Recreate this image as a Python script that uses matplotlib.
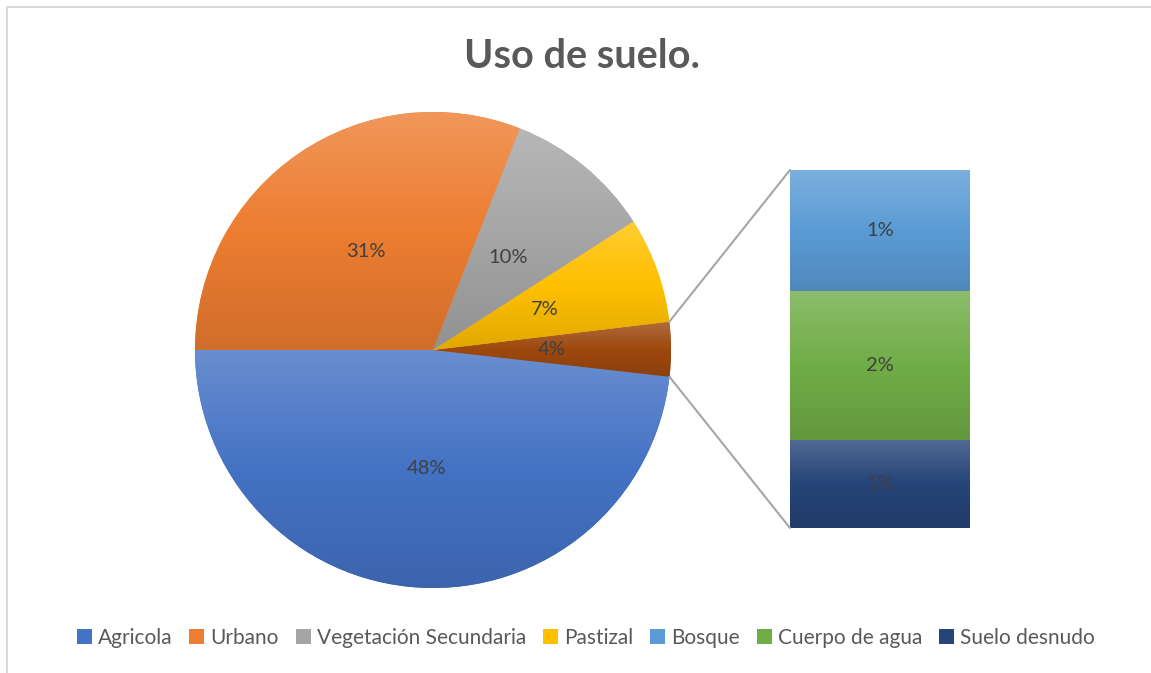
import numpy as np
import matplotlib
matplotlib.use('Agg')
import matplotlib.pyplot as plt
from matplotlib.patches import ConnectionPatch, Patch
from matplotlib.lines import Line2D
from matplotlib.colors import to_rgb

plt.rcParams['font.family'] = ['Lato', 'DejaVu Sans']

# datos (porcentajes)
bar_labels = ['Suelo desnudo', 'Cuerpo de agua', 'Bosque']
bar_values = [0.91, 1.54, 1.25]
bar_colors = ['#264478', '#70AD47', '#5B9BD5']

otros = sum(bar_values)
pie_labels = ['Agricola', 'Otros', 'Pastizal', 'Vegetación Secundaria', 'Urbano']
pie_values = [48.3, otros, 7.2, 10.0, 31.0]
pie_colors = ['#4472C4', '#9E480E', '#FFC000', '#A5A5A5', '#ED7D31']

legend_order = ['Agricola', 'Urbano', 'Vegetación Secundaria', 'Pastizal',
                'Bosque', 'Cuerpo de agua', 'Suelo desnudo']

text_color = '#404040'


def gradient_fill(ax, patch, color, extent):
    # degradado vertical tipo Excel: claro arriba, oscuro abajo
    c = np.array(to_rgb(color))
    top = c + (1 - c) * 0.2
    bot = c * 0.88
    t = np.linspace(0, 1, 256)[:, None]
    rows = np.where(t < 0.5, top + (c - top) * (t / 0.5), c + (bot - c) * ((t - 0.5) / 0.5))
    img = np.clip(rows[:, None, :], 0, 1)
    im = ax.imshow(img, extent=extent, origin='upper', aspect='auto',
                   zorder=patch.get_zorder() + 0.1, interpolation='bilinear')
    im.set_clip_path(patch)


W, H = 1151, 673
fig = plt.figure(figsize=(W / 100, H / 100), dpi=100)

# pie
ax1 = fig.add_axes([195 / W, 1 - 588 / H, 476 / W, 476 / H])
wedges, texts, autotexts = ax1.pie(
    pie_values, colors=pie_colors, startangle=180, counterclock=True,
    autopct='%1.0f%%', pctdistance=0.5, wedgeprops=dict(linewidth=0),
    textprops=dict(color=text_color, fontsize=14.5))
for w, col in zip(wedges, pie_colors):
    b = w.get_path().get_extents()
    gradient_fill(ax1, w, col, (b.x0, b.x1, b.y0, b.y1))
for t in autotexts:
    t.set_zorder(5)
ax1.set_xlim(-1, 1)
ax1.set_ylim(-1, 1)
ax1.set_aspect('equal')
ax1.axis('off')

# barra apilada
ax2 = fig.add_axes([790 / W, 1 - 528 / H, 180 / W, 358 / H])
total = sum(pie_values)
bottoms = np.concatenate([[0], np.cumsum(bar_values)[:-1]])
bar_handles = {}
for lab, val, bot, col in zip(bar_labels, bar_values, bottoms, bar_colors):
    cont = ax2.bar(0, val, bottom=bot, width=1, color=col, linewidth=0, label=lab)
    rect = cont.patches[0]
    gradient_fill(ax2, rect, col, (-0.5, 0.5, bot, bot + val))
    ax2.bar_label(cont, labels=[f'{val / total * 100:.0f}%'], label_type='center',
                  color=text_color, fontsize=14.5, zorder=5)
    bar_handles[lab] = col
ax2.set_xlim(-0.5, 0.5)
ax2.set_ylim(0, otros)
ax2.axis('off')

# lineas de conexion
w_otros = wedges[1]
for ang, yb in [(w_otros.theta1, 0), (w_otros.theta2, otros)]:
    a = np.deg2rad(ang)
    con = ConnectionPatch(xyA=(np.cos(a), np.sin(a)), coordsA=ax1.transData,
                          xyB=(-0.5, yb), coordsB=ax2.transData,
                          color='#A6A6A6', lw=1.5)
    fig.add_artist(con)

# leyenda
colors = dict(zip(pie_labels, pie_colors))
colors.update(bar_handles)
handles = [Patch(facecolor=colors[l], edgecolor='none', label=l) for l in legend_order]
fig.legend(handles=handles, loc='center', bbox_to_anchor=(0.509, 1 - 638 / H), ncol=7,
           frameon=False, fontsize=15, labelcolor='#595959',
           handlelength=0.72, handleheight=0.72, handletextpad=0.3, columnspacing=0.8)

fig.suptitle('Uso de suelo.', x=0.5055, y=1 - 56 / H, va='center', fontsize=28.5,
             fontweight='bold', color='#595959')

# borde del area del grafico (solo se ve arriba y a la izquierda)
x0, y0 = 6.5 / W, 1 - 6.5 / H
fig.add_artist(Line2D([x0, x0, 1], [0, y0, y0], transform=fig.transFigure,
                      color='#D9D9D9', lw=1.5))

fig.savefig('out.png', dpi=100)
